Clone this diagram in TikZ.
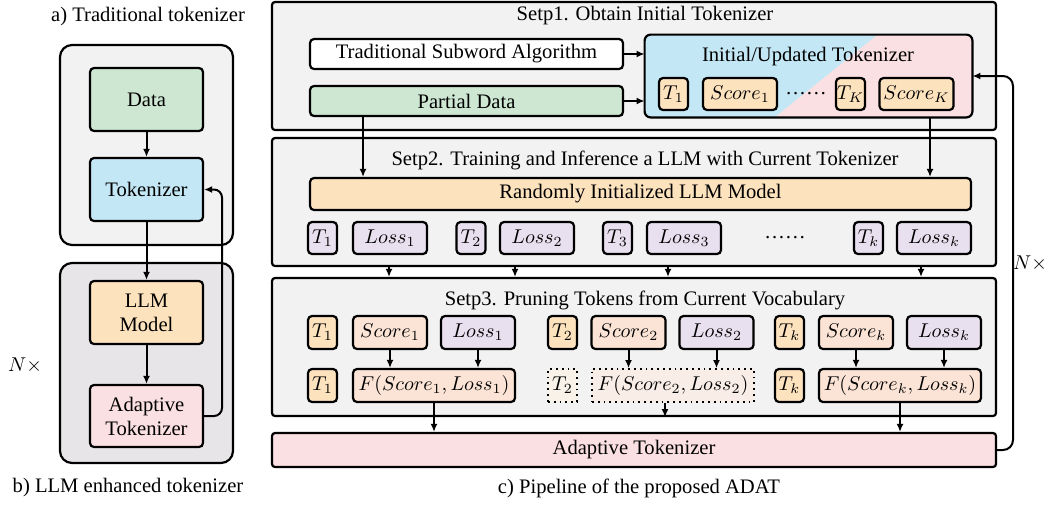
\documentclass[tikz,border=0pt]{standalone}
\usepackage{amsmath,amssymb}
\usepackage{fontspec}
\setmainfont{Liberation Serif}
\usepackage{xcolor}
\usepackage{tikz}
\usetikzlibrary{arrows.meta,positioning,calc}

\definecolor{panelgray}{HTML}{F2F2F2}
\definecolor{panelgrayb}{HTML}{E7E5E7}
\definecolor{greenf}{HTML}{CDE7D2}
\definecolor{bluef}{HTML}{C4E7F6}
\definecolor{orangef}{HTML}{FDE2BE}
\definecolor{lavf}{HTML}{E9E0EF}
\definecolor{peachf}{HTML}{FBE4D6}
\definecolor{pinkf}{HTML}{FBE0E3}
\definecolor{fadedf}{HTML}{F8EDE7}
\definecolor{fadedt}{HTML}{F9F2E8}

\begin{document}
\begin{tikzpicture}[x=0.5pt,y=-0.5pt,font=\fontsize{10.3}{12}\selectfont,
 panel/.style={draw,line width=1.1pt,rounded corners=6pt,fill=panelgray,inner sep=0,minimum width=86.5pt,minimum height=100pt},
 stage/.style={draw,line width=1.1pt,rounded corners=1.5pt,fill=panelgray,inner sep=0,minimum width=362pt},
 box/.style={draw,line width=1.1pt,rounded corners=2pt,inner sep=0,align=center},
 flow/.style={box,minimum width=56.5pt,minimum height=31.5pt},
 tbox/.style={box,fill=orangef,minimum width=14.5pt,minimum height=16pt},
 sbox/.style={box,minimum width=37pt,minimum height=16pt},
 fbox/.style={box,fill=peachf,minimum width=81pt,minimum height=16.5pt},
 faded/.style={draw,dotted,line width=0.9pt,inner sep=0},
 arrow/.style={-{Latex[length=4pt,width=3.5pt]},line width=1pt}]
\useasboundingbox (0,0) rectangle (1053,510);

% ---- a) / b) left column
\node (capA) at (148,17) {a) Traditional tokenizer};
\node[panel] (panelA) at (146.5,145) {};
\node[panel,fill=panelgrayb] (panelB) at (146.5,363) {};
\node[flow,fill=greenf] (data) at (146.5,99.5) {Data};
\node[flow,fill=bluef] (tokz) at (146.5,189.5) {Tokenizer};
\node[flow,fill=orangef] (llm) at (146.5,312.5) {LLM\\Model};
\node[flow,fill=pinkf,minimum height=31pt] (adap) at (146.5,416) {Adaptive\\Tokenizer};
\node (nL) at (25,365) {$N\times$};
\node (capB) at (128,488) {b) LLM enhanced tokenizer};
\coordinate (loopL) at (222,0);
\draw[arrow] (data) -- (tokz);
\draw[arrow] (tokz) -- (llm);
\draw[arrow] (llm) -- (adap);
\draw[arrow,rounded corners=4pt] (adap.east) -- (adap.east -| loopL) -- (loopL |- tokz.east) -- (tokz.east);

% ---- step 1
\node[stage,minimum height=64pt] (step1) at (634,66) {};
\node (title1) at (645,16) {Setp1. Obtain Initial Tokenizer};
\node[box,fill=white,minimum width=156.5pt,minimum height=15pt] (trad) at (466.5,54) {Traditional Subword Algorithm};
\node[box,fill=greenf,minimum width=156.5pt,minimum height=15pt] (partial) at (466.5,101) {Partial Data};
\node[fill=pinkf,rounded corners=3pt,inner sep=0,minimum width=163.5pt,minimum height=41pt] (init) at (808.5,76) {};
\begin{scope}
 \clip[rounded corners=3pt] (init.south west) rectangle (init.north east);
 \fill[bluef] (init.north west) -- (877,35) -- (775,117) -- (init.south west) -- cycle;
\end{scope}
\draw[line width=1.1pt,rounded corners=3pt] (init.south west) rectangle (init.north east);
\node (initT) at (808,57) {Initial/Updated Tokenizer};
\node[tbox] (it1) at (673.5,94) {$T_1$};
\node[sbox,fill=orangef] (is1) at (740,94) {$Score_1$};
\node (idots) at (806,94) {\dots\dots};
\node[tbox] (itK) at (850.5,94) {$T_K$};
\node[sbox,fill=orangef] (isK) at (916.5,94) {$Score_K$};
\draw[arrow] (trad) -- (trad -| init.west);
\draw[arrow] (partial) -- (partial -| init.west);

% ---- step 2
\node[stage,minimum height=64pt] (step2) at (634,202) {};
\node (title2) at (645,160) {Setp2. Training and Inference a LLM with Current Tokenizer};
\node[box,fill=orangef,minimum width=330.5pt,minimum height=16pt] (llmbar) at (640.5,194) {Randomly Initialized LLM Model};
\node[tbox,fill=lavf] (mt1) at (322.5,238) {$T_1$};
\node[sbox,fill=lavf] (ml1) at (390,238) {$Loss_1$};
\node[tbox,fill=lavf] (mt2) at (471,238) {$T_2$};
\node[sbox,fill=lavf] (ml2) at (537,238) {$Loss_2$};
\node[tbox,fill=lavf] (mt3) at (617.5,238) {$T_3$};
\node[sbox,fill=lavf] (ml3) at (684,238) {$Loss_3$};
\node (mdots) at (785,238) {\dots\dots};
\node[tbox,fill=lavf] (mtk) at (868.5,238) {$T_k$};
\node[sbox,fill=lavf] (mlk) at (934,238) {$Loss_k$};
\coordinate (pdx) at (363,0);
\coordinate (tkx) at (930,0);
\draw[arrow] (partial.south -| pdx) -- (llmbar.north -| pdx);
\draw[arrow] (init.south -| tkx) -- (llmbar.north -| tkx);

% ---- step 3
\node[stage,minimum height=69pt] (step3) at (634,347) {};
\node (title3) at (645,300) {Setp3. Pruning Tokens from Current Vocabulary};
\foreach \xx in {389,515,668,921} {
 \coordinate (cx) at (\xx,0);
 \draw[arrow] (step2.south -| cx) -- (step3.north -| cx);
}
% scores and losses
\node[tbox,minimum height=16.5pt] (pt1) at (322.5,332.5) {$T_1$};
\node[sbox,fill=peachf,minimum height=16.5pt] (s1) at (390,332.5) {$Score_1$};
\node[sbox,fill=lavf,minimum height=16.5pt] (l1) at (478,332.5) {$Loss_1$};
\node[tbox,minimum height=16.5pt] (pt2) at (562.5,332.5) {$T_2$};
\node[sbox,fill=peachf,minimum height=16.5pt] (s2) at (628.5,332.5) {$Score_2$};
\node[sbox,fill=lavf,minimum height=16.5pt] (l2) at (716.5,332.5) {$Loss_2$};
\node[tbox,minimum height=16.5pt] (ptk) at (789.5,332.5) {$T_k$};
\node[sbox,fill=peachf,minimum height=16.5pt] (sk) at (856,332.5) {$Score_k$};
\node[sbox,fill=lavf,minimum height=16.5pt] (lk) at (944,332.5) {$Loss_k$};
% combined values
\node[tbox,minimum height=16.5pt] (qt1) at (322.5,385.5) {$T_1$};
\node[fbox] (f1) at (434,385.5) {$F(Score_1,Loss_1)$};
\node[faded,fill=fadedt,minimum width=14.5pt,minimum height=16.5pt] (qt2) at (562.5,385.5) {$T_2$};
\node[faded,fill=fadedf,minimum width=81pt,minimum height=16.5pt] (f2) at (673,385.5) {$F(Score_2,Loss_2)$};
\node[tbox,minimum height=16.5pt] (qtk) at (789.5,385.5) {$T_k$};
\node[fbox] (fk) at (900,385.5) {$F(Score_k,Loss_k)$};
\foreach \a/\b in {s1/f1,l1/f1,s2/f2,l2/f2,sk/fk,lk/fk}
 \draw[arrow] (\a) -- (\a |- \b.north);

% ---- result
\node[stage,fill=pinkf,minimum height=17pt] (ada) at (634,450) {Adaptive Tokenizer};
\draw[arrow] (f1) -- (f1 |- ada.north);
\draw[arrow] (fk) -- (fk |- ada.north);
\draw[arrow] ([xshift=-4pt]f2.south) -- ([xshift=-4pt]f2.south |- step3.south);
\coordinate (loopR) at (1013,0);
\draw[arrow,rounded corners=5pt] (ada.east) -- (ada.east -| loopR) -- (loopR |- init.east) -- (init.east);
\node (nR) at (1030,263) {$N\times$};
\node (capC) at (639,488) {c) Pipeline of the proposed ADAT};
\end{tikzpicture}
\end{document}
